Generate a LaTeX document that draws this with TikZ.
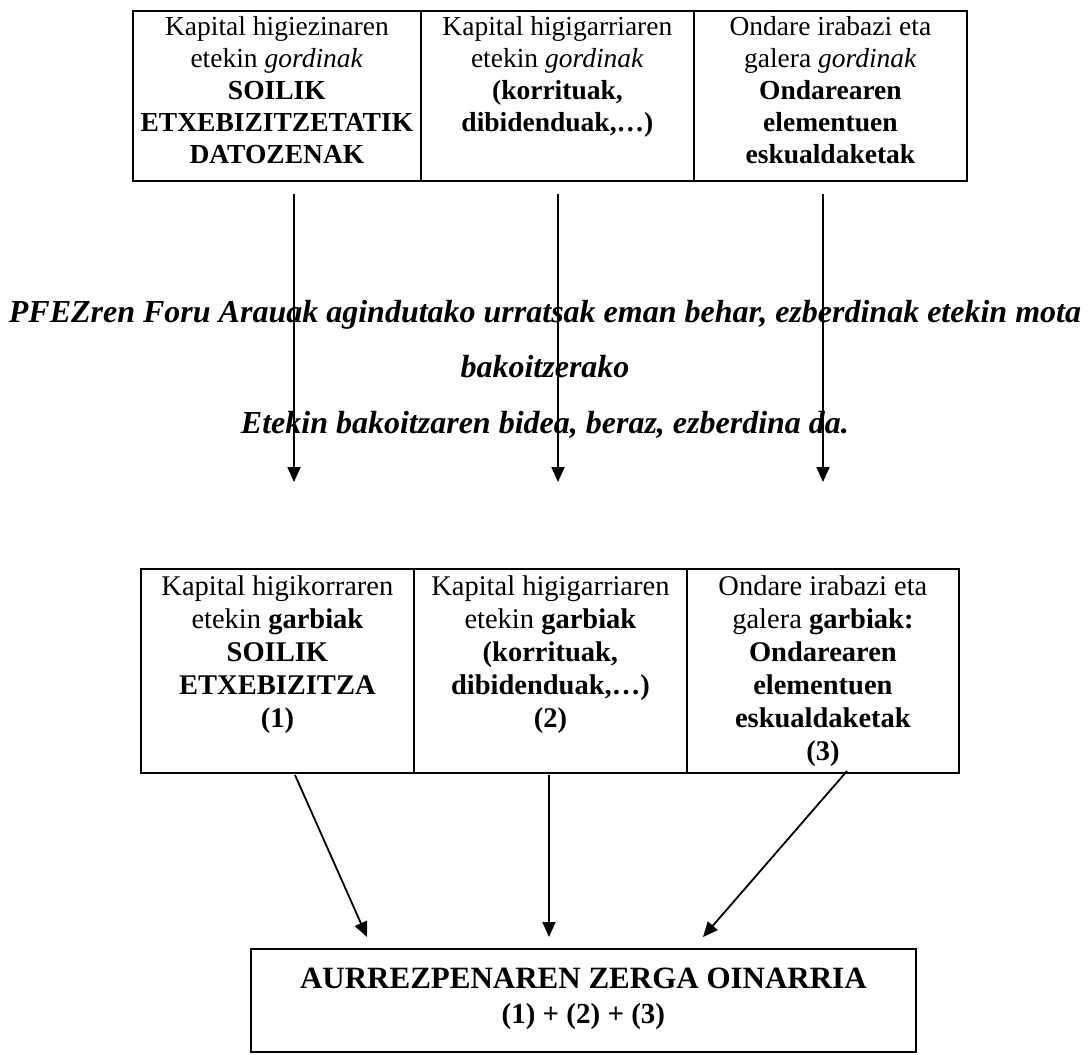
\documentclass[tikz,border=0pt]{standalone}
\usepackage{fontspec}
\setmainfont{Liberation Serif}
\usetikzlibrary{arrows.meta}
\newcommand{\cellbox}[4]{\begin{minipage}[t][#2pt][t]{#1pt}\centering\rule{0pt}{#3pt}#4\end{minipage}}
\begin{document}
\begin{tikzpicture}[x=1pt,y=-1pt,
  cell/.style={draw, line width=1.8pt, inner sep=0pt, anchor=north west},
  toptext/.style={font=\fontsize{27.5}{32}\selectfont},
  bottext/.style={font=\fontsize{28.5}{33}\selectfont},
  midtext/.style={inner sep=0pt, align=center, anchor=north, font=\bfseries\itshape\fontsize{32}{55.5}\selectfont},
  arr/.style={-{Triangle[length=15pt,width=13pt]}, line width=1.8pt}]
\useasboundingbox (0,0) rectangle (1091,1054);

% top row
\node[cell, toptext] (t1) at (132,10) {\cellbox{288}{170}{25}{Kapital higiezinaren\\ etekin \textit{gordinak}\\ \textbf{SOILIK}\\ \textbf{ETXEBIZITZETATIK}\\ \textbf{DATOZENAK}}};
\node[cell, toptext] (t2) at (420,10) {\cellbox{273}{170}{25}{Kapital higigarriaren\\ etekin \textit{gordinak}\\ \textbf{(korrituak,}\\ \textbf{dibidenduak,…)}}};
\node[cell, toptext] (t3) at (693,10) {\cellbox{273}{170}{25}{Ondare irabazi eta\\ galera \textit{gordinak}\\ \textbf{Ondarearen}\\ \textbf{elementuen}\\ \textbf{eskualdaketak}}};

% middle text
\node[midtext] (m) at (545,292) {\rule{0pt}{30pt}PFEZren Foru Arauak agindutako urratsak eman behar, ezberdinak etekin mota\\ bakoitzerako\\ Etekin bakoitzaren bidea, beraz, ezberdina da.};

% bottom row
\node[cell, bottext] (b1) at (140,568) {\cellbox{273}{204}{27}{Kapital higikorraren\\ etekin \textbf{garbiak}\\ \textbf{SOILIK}\\ \textbf{ETXEBIZITZA}\\ \textbf{(1)}}};
\node[cell, bottext] (b2) at (413,568) {\cellbox{273}{204}{27}{Kapital higigarriaren\\ etekin \textbf{garbiak}\\ \textbf{(korrituak,}\\ \textbf{dibidenduak,…)}\\ \textbf{(2)}}};
\node[cell, bottext] (b3) at (686,568) {\cellbox{272}{204}{27}{Ondare irabazi eta\\ galera \textbf{garbiak:}\\ \textbf{Ondarearen}\\ \textbf{elementuen}\\ \textbf{eskualdaketak}\\ \textbf{(3)}}};

% final box
\node[cell, font=\bfseries\fontsize{31}{35}\selectfont] (f) at (250,948) {\cellbox{665}{103}{40}{AURREZPENAREN ZERGA OINARRIA\\ \fontsize{29}{35}\selectfont (1) + (2) + (3)}};

% arrow end points
\coordinate (s1) at (294,194); \coordinate (e1) at (294,482);
\coordinate (s2) at (558,194); \coordinate (e2) at (558,482);
\coordinate (s3) at (823,194); \coordinate (e3) at (823,482);
\coordinate (u1) at (295,775); \coordinate (v1) at (367,937);
\coordinate (u2) at (549,775); \coordinate (v2) at (549,937);
\coordinate (u3) at (847,771); \coordinate (v3) at (703,937);

\draw[arr] (s1) -- (e1);
\draw[arr] (s2) -- (e2);
\draw[arr] (s3) -- (e3);
\draw[arr] (u1) -- (v1);
\draw[arr] (u2) -- (v2);
\draw[arr] (u3) -- (v3);
\end{tikzpicture}
\end{document}
